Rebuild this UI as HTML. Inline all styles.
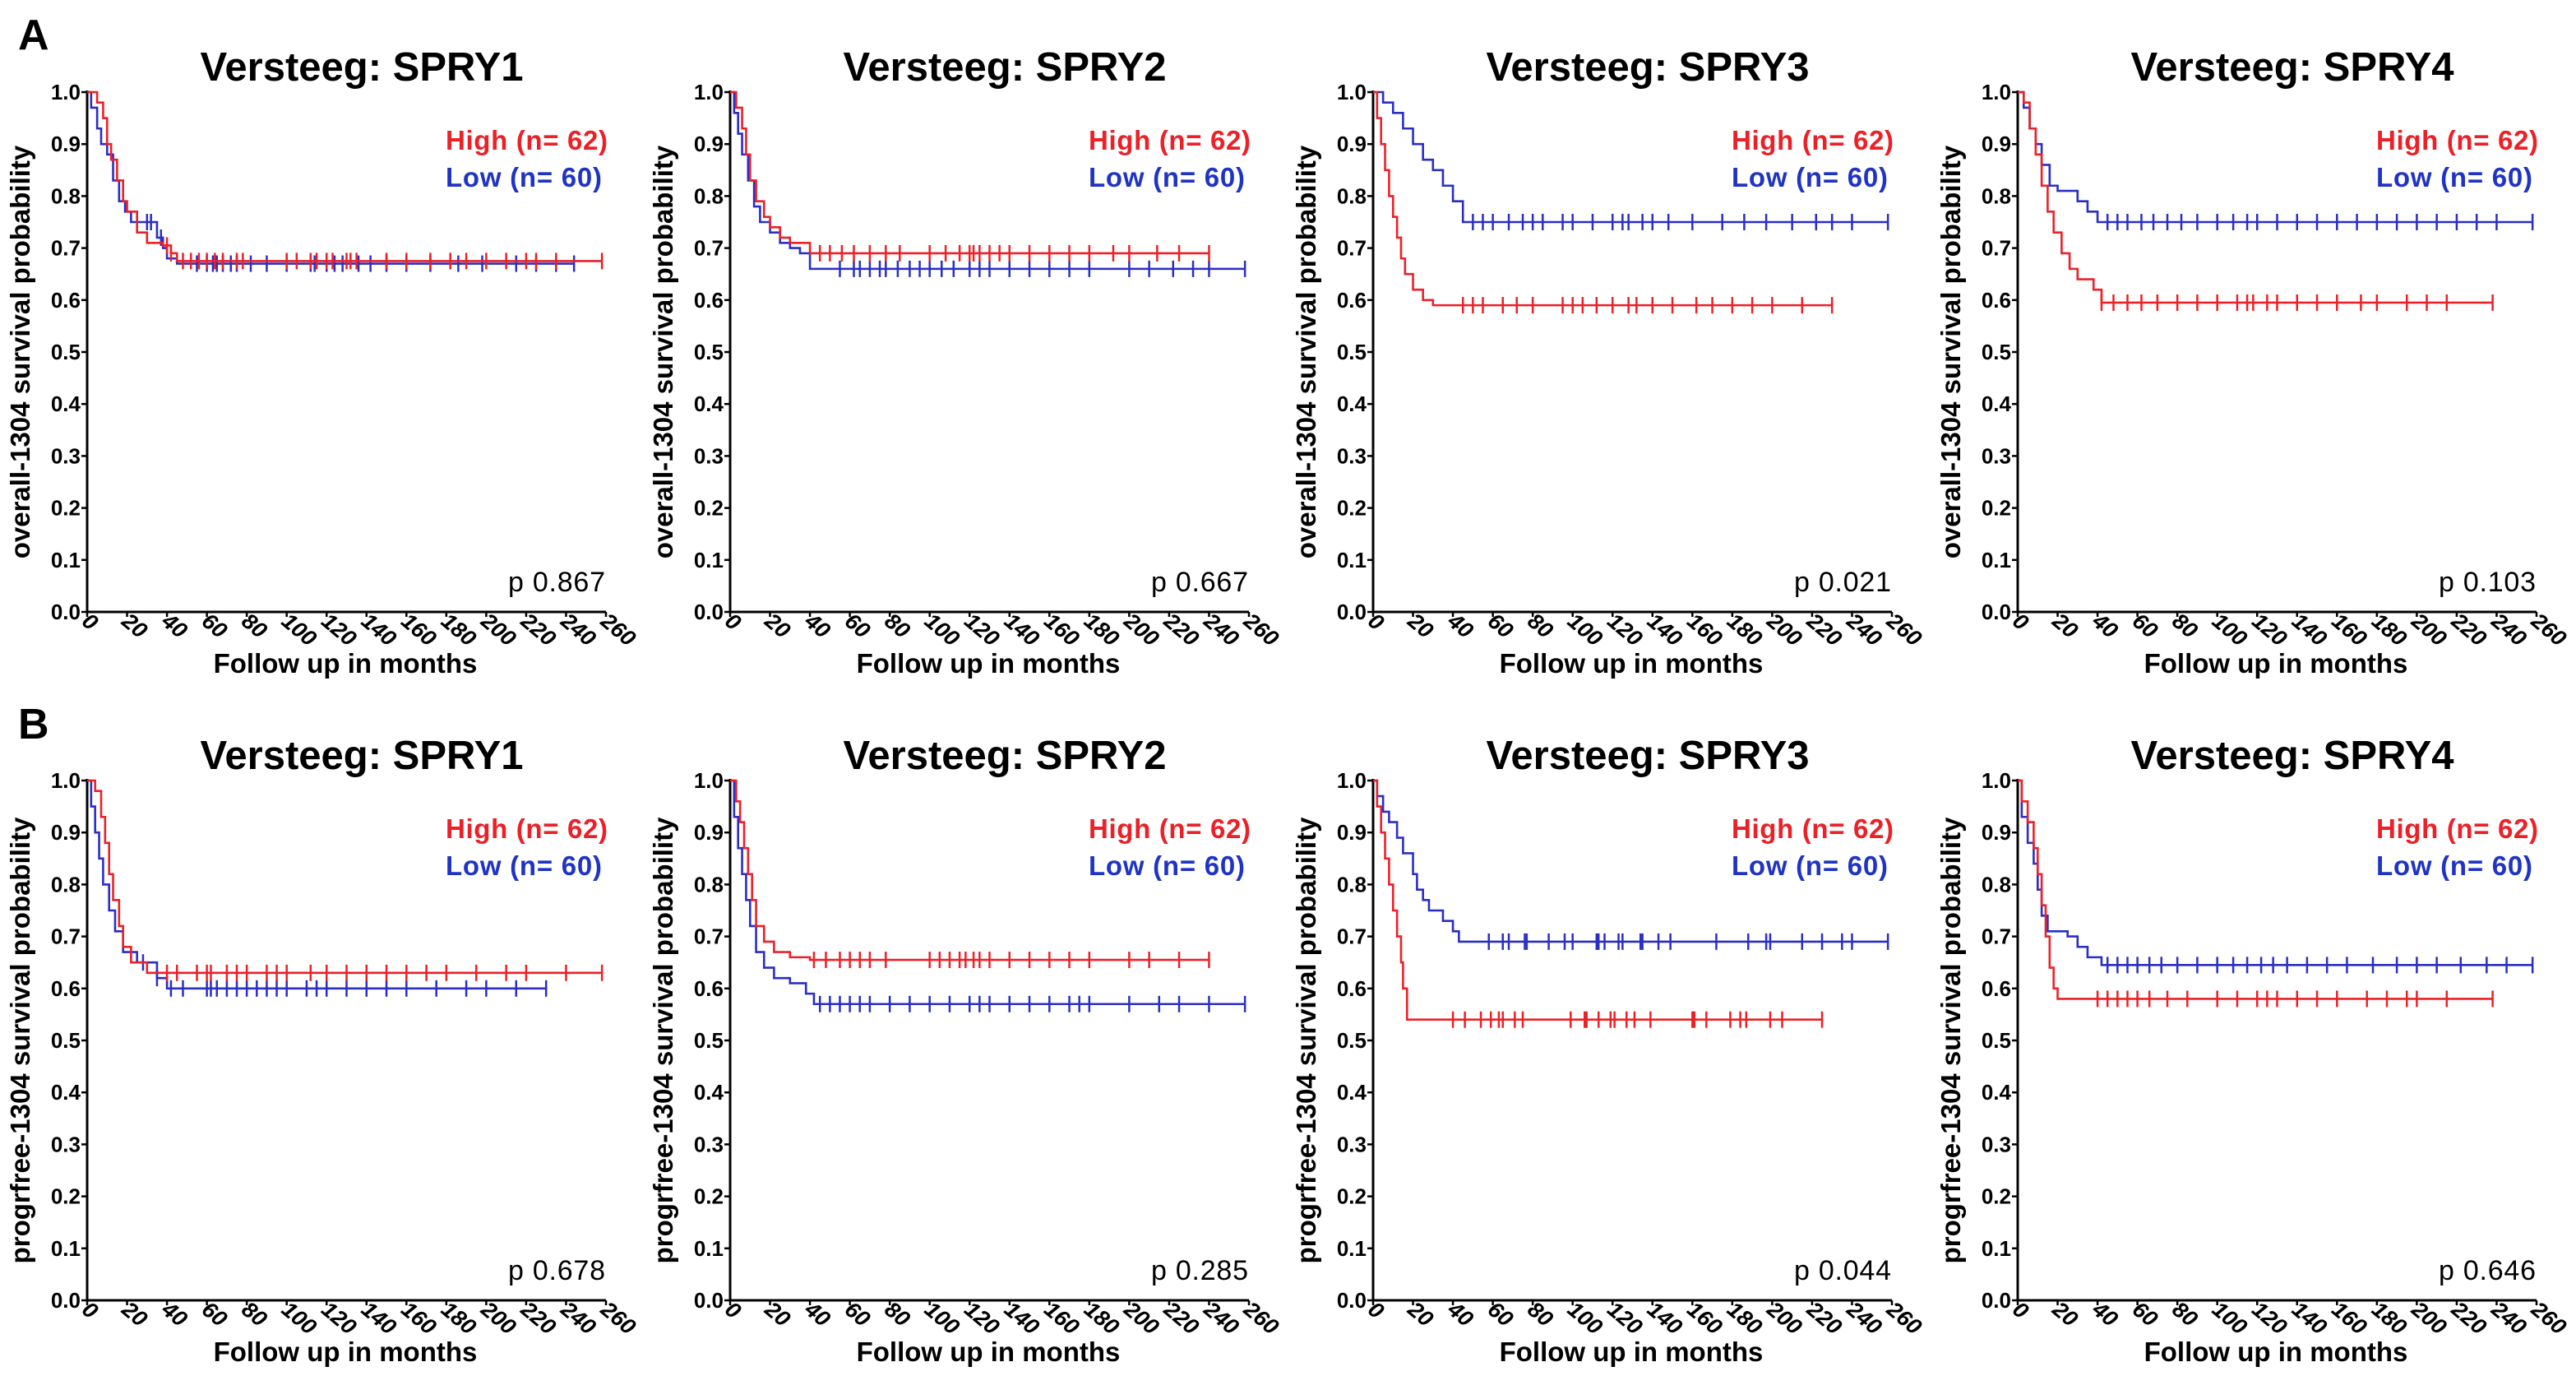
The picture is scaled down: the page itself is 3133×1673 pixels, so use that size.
<!DOCTYPE html>
<html><head><meta charset="utf-8"><style>
body{margin:0;background:#fff;}
svg{display:block;font-family:"Liberation Sans",sans-serif;}
</style></head><body>
<svg id="fig" width="3133" height="1673" viewBox="0 0 3133 1673" xmlns="http://www.w3.org/2000/svg">
<text x="22" y="60" font-size="52" font-weight="bold">A</text>
<text x="22" y="898" font-size="52" font-weight="bold">B</text>
</svg>
<script>
const yTicks = ["0.0","0.1","0.2","0.3","0.4","0.5","0.6","0.7","0.8","0.9","1.0"];
const xTicks = [0,20,40,60,80,100,120,140,160,180,200,220,240,260];
const titles = ["Versteeg: SPRY1","Versteeg: SPRY2","Versteeg: SPRY3","Versteeg: SPRY4","Versteeg: SPRY1","Versteeg: SPRY2","Versteeg: SPRY3","Versteeg: SPRY4"];
const pValues = ["p 0.867","p 0.667","p 0.021","p 0.103","p 0.678","p 0.285","p 0.044","p 0.646"];
const yLabels = ["overall-1304 survival probability","overall-1304 survival probability","overall-1304 survival probability","overall-1304 survival probability","progrfree-1304 survival probability","progrfree-1304 survival probability","progrfree-1304 survival probability","progrfree-1304 survival probability"];
// step curves: [time, survival]
const highSteps = [
 [[0,1],[5,0.98],[8,0.95],[10,0.9],[12,0.87],[15,0.83],[18,0.79],[20,0.77],[25,0.73],[30,0.71],[38,0.705],[42,0.69],[45,0.675]],
 [[0,1],[3,0.97],[6,0.93],[8,0.88],[10,0.83],[13,0.79],[17,0.76],[20,0.74],[25,0.72],[30,0.71],[40,0.69]],
 [[0,1],[2,0.95],[4,0.9],[6,0.85],[8,0.8],[10,0.76],[12,0.72],[14,0.68],[16,0.65],[20,0.62],[25,0.6],[30,0.59]],
 [[0,1],[3,0.98],[6,0.93],[9,0.88],[12,0.82],[15,0.77],[18,0.73],[22,0.69],[26,0.66],[30,0.64],[38,0.62],[42,0.595]],
 [[0,1],[4,0.98],[7,0.93],[9,0.88],[11,0.82],[13,0.77],[16,0.72],[18,0.68],[22,0.65],[30,0.63]],
 [[0,1],[3,0.96],[5,0.92],[7,0.87],[9,0.82],[11,0.77],[13,0.72],[17,0.69],[22,0.67],[30,0.66],[40,0.655]],
 [[0,1],[2,0.95],[4,0.9],[6,0.85],[8,0.8],[10,0.75],[12,0.7],[14,0.65],[15,0.6],[17,0.54]],
 [[0,1],[2,0.96],[5,0.92],[8,0.87],[10,0.82],[12,0.76],[14,0.7],[16,0.64],[18,0.6],[20,0.58]]
];
const lowSteps = [
 [[0,1],[2,0.97],[5,0.93],[7,0.9],[10,0.88],[13,0.83],[16,0.79],[19,0.77],[22,0.75],[35,0.72],[38,0.7],[40,0.68],[45,0.67]],
 [[0,1],[2,0.96],[4,0.92],[6,0.88],[9,0.83],[12,0.78],[15,0.75],[20,0.73],[25,0.71],[30,0.7],[35,0.69],[40,0.66]],
 [[0,1],[5,0.98],[10,0.96],[15,0.93],[20,0.9],[25,0.87],[30,0.85],[35,0.82],[40,0.79],[45,0.75]],
 [[0,1],[3,0.97],[6,0.93],[9,0.9],[12,0.86],[16,0.82],[20,0.81],[30,0.79],[35,0.77],[40,0.75]],
 [[0,1],[2,0.95],[4,0.9],[6,0.85],[8,0.8],[11,0.75],[14,0.71],[18,0.67],[25,0.65],[35,0.62],[40,0.6]],
 [[0,1],[2,0.93],[4,0.87],[6,0.82],[8,0.77],[10,0.72],[13,0.67],[17,0.64],[22,0.62],[30,0.61],[38,0.59],[42,0.57]],
 [[0,1],[2,0.97],[5,0.94],[8,0.92],[12,0.89],[15,0.86],[20,0.82],[22,0.79],[25,0.77],[28,0.75],[35,0.73],[40,0.71],[43,0.69]],
 [[0,1],[2,0.93],[5,0.88],[8,0.84],[10,0.79],[12,0.74],[15,0.71],[25,0.7],[30,0.68],[35,0.66],[42,0.645]]
];
const highEnd = [258,240,230,238,258,240,225,238];
const lowEnd = [244,258,258,258,230,258,258,258];
const highCensor = [
 [40,42,48,52,56,60,64,68,75,78,100,105,112,115,120,123,130,132,135,150,160,172,182,190,200,210,220,225,235,258],
 [45,50,56,62,70,78,85,100,108,115,120,122,125,130,135,140,150,160,170,180,192,200,214,225,240],
 [45,50,55,65,72,80,95,100,105,112,120,128,132,140,150,162,170,180,190,200,215,230],
 [42,48,55,62,70,80,90,100,110,115,118,125,130,140,150,160,172,180,195,205,215,238],
 [40,45,55,60,62,70,75,80,90,95,100,112,120,130,140,150,160,170,180,195,210,220,240,258],
 [42,48,55,60,65,70,78,100,105,110,115,118,122,125,130,140,150,160,170,180,200,210,225,240],
 [40,46,54,59,63,65,71,75,99,106,107,113,119,121,127,131,139,160,161,167,179,184,187,199,205,225],
 [40,45,50,55,60,66,75,85,100,110,120,125,130,140,150,160,175,185,195,200,215,238]
];
const lowCensor = [
 [30,32,37,55,60,63,65,68,72,75,82,90,100,112,114,120,124,128,136,142,150,160,172,186,198,215,225,235,244],
 [55,62,65,70,75,78,84,90,95,100,106,112,120,125,130,140,150,160,170,180,200,210,222,232,240,258],
 [50,55,60,68,75,80,85,95,100,110,120,125,128,135,140,148,160,175,186,197,210,222,230,240,258],
 [45,50,55,62,68,75,82,90,100,108,115,120,130,140,150,160,170,180,190,200,210,220,230,240,258],
 [28,35,42,48,60,62,65,70,75,80,85,90,95,100,110,115,120,130,140,150,160,175,190,200,215,230],
 [45,50,55,60,65,70,80,90,100,110,120,125,130,140,150,160,170,175,180,200,215,225,240,258],
 [58,65,68,76,77,88,96,100,112,113,116,123,125,134,135,143,149,172,188,197,199,215,225,235,240,258],
 [45,50,55,60,66,72,80,90,100,108,115,122,128,135,145,155,165,178,190,200,210,222,235,245,258]
];
</script>
<script>
const NS="http://www.w3.org/2000/svg";
const svg=document.getElementById('fig');
const colX=[106,888,1670,2454], rowY=[112,949];
const PW=631, PH=632;
const RED="#ec2027", BLUE="#2a2ec4";
function mk(tag,attrs,parent){const e=document.createElementNS(NS,tag);for(const k in attrs)e.setAttribute(k,attrs[k]);(parent||svg).appendChild(e);return e;}
function survAt(steps,t){let s=1;for(const p of steps){if(p[0]<=t)s=p[1];}return s;}
for(let i=0;i<8;i++){
  const ox=colX[i%4], oy=rowY[Math.floor(i/4)];
  const xs=t=>ox+t/260*PW, ys=v=>oy+PH-v*PH;
  const g=mk('g',{});
  
  
  const title=mk('text',{x:ox+334,y:oy-14,'font-size':49,'font-weight':'bold','text-anchor':'middle'},g);
  
  
  title.textContent=titles[i];
  const ax=mk('path',{d:`M${ox},${oy-2}V${oy+PH}H${ox+PW}`,stroke:'#000','stroke-width':3,fill:'none'},g);
  
  
  yTicks.forEach((lab,k)=>{
    const y=ys(k/10);
    mk('line',{x1:ox-7,x2:ox,y1:y,y2:y,stroke:'#000','stroke-width':2.5},g);
    const t=mk('text',{x:ox-8,y:y+9,'font-size':26,'font-weight':'bold','text-anchor':'end'},g);
    
    
    t.textContent=lab;
  });
  xTicks.forEach(v=>{
    const x=xs(v);
    mk('line',{x1:x,x2:x,y1:oy+PH,y2:oy+PH+6,stroke:'#000','stroke-width':2.5},g);
    const t=mk('text',{x:0,y:0,'font-size':27,'font-weight':'bold','font-style':'italic',transform:`translate(${x-8},${oy+PH+14}) rotate(40)`},g);
    
    
    t.textContent=v;
  });
  const yl=mk('text',{x:0,y:0,'font-size':33,'font-weight':'bold','text-anchor':'middle',transform:`translate(${ox-70},${oy+PH/2}) rotate(-90)`},g);
  
  
  yl.textContent=yLabels[i];
  const xl=mk('text',{x:ox+314,y:oy+PH+74,'font-size':33,'font-weight':'bold','text-anchor':'middle'},g);
  
  
  xl.textContent='Follow up in months';
  [[lowSteps[i],lowEnd[i],lowCensor[i],BLUE,'low'],[highSteps[i],highEnd[i],highCensor[i],RED,'high']].forEach(([st,end,cen,col,nm])=>{
    let d=`M${xs(st[0][0])},${ys(st[0][1])}`;
    for(let k=1;k<st.length;k++){d+=`H${xs(st[k][0])}V${ys(st[k][1])}`;}
    d+=`H${xs(end)}`;
    const p=mk('path',{d,stroke:col,'stroke-width':2.6,fill:'none'},g);
    
    
    cen.forEach(c=>{
      const y=ys(survAt(st,c));
      const l=mk('line',{x1:xs(c),x2:xs(c),y1:y-10,y2:y+10,stroke:col,'stroke-width':2.5},g);
      
      
    });
  });
  const h=mk('text',{x:ox+436,y:oy+70,'font-size':33,'font-weight':'bold',fill:RED,textLength:197},g);
  
  
  h.textContent='High (n= 62)';
  const lo=mk('text',{x:ox+436,y:oy+115,'font-size':33,'font-weight':'bold',fill:'#1f33c4',textLength:190},g);
  
  
  lo.textContent='Low (n= 60)';
  const pv=mk('text',{x:ox+512,y:oy+607,'font-size':34,fill:'#000',textLength:118},g);
  
  
  pv.textContent=pValues[i];
}
</script>
</body></html>
